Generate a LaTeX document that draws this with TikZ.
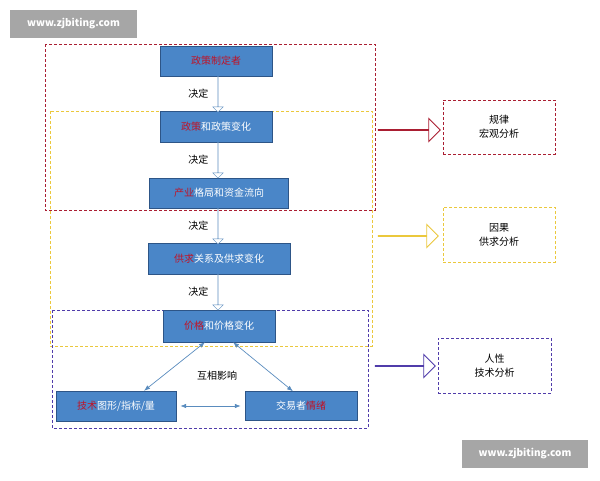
\documentclass[tikz,border=0pt]{standalone}
\usepackage{fontspec}
\setmainfont{Noto Sans CJK SC}
\usetikzlibrary{shapes.arrows,arrows.meta}
\definecolor{boxblue}{RGB}{74,134,200}
\definecolor{boxedge}{RGB}{45,85,135}
\definecolor{keyred}{RGB}{190,20,40}
\definecolor{frred}{RGB}{170,30,50}
\definecolor{fryellow}{RGB}{235,200,60}
\definecolor{frpurple}{RGB}{80,60,170}
\definecolor{linkblue}{RGB}{90,140,190}
\tikzset{
  stage/.style={draw=boxedge,fill=boxblue,text=white,font=\fontsize{10}{12}\selectfont,inner sep=0pt},
  frame/.style={draw,densely dashed,line width=0.8pt},
  down/.style={single arrow,draw=linkblue,fill=white,rotate=270,minimum height=36,minimum width=10,single arrow head extend=5,inner sep=0pt},
  fat/.style={single arrow,fill=white,line width=0.9pt,minimum width=22,single arrow head extend=11,inner sep=0pt},
  note/.style={font=\fontsize{10}{14}\selectfont,align=center},
  link/.style={draw=linkblue,line width=0.7pt,{Latex[length=6pt]}-{Latex[length=6pt]}}
}
\begin{document}
\begin{tikzpicture}[x=1pt,y=1pt,yscale=-1]
\useasboundingbox (0,0) rectangle (600,480);

%Dashed frames
\draw [frame,frred] (45,44) rectangle (375,210);
\draw [frame,fryellow] (50,111) rectangle (372,346);
\draw [frame,frpurple] (52,310) rectangle (368,428);

%Chain of blue boxes
\node [stage,minimum width=112,minimum height=30] (maker) at (216,61) {\textcolor{keyred}{政策制定者}};
\node [stage,minimum width=112,minimum height=31] (policy) at (216,127) {\textcolor{keyred}{政策}和政策变化};
\node [stage,minimum width=139,minimum height=30] (industry) at (219,193) {\textcolor{keyred}{产业}格局和资金流向};
\node [stage,minimum width=142,minimum height=31] (supply) at (219,259) {\textcolor{keyred}{供求}关系及供求变化};
\node [stage,minimum width=112,minimum height=32] (price) at (219,326) {\textcolor{keyred}{价格}和价格变化};
\node [stage,minimum width=120,minimum height=30] (tech) at (116,406) {\textcolor{keyred}{技术}图形/指标/量};
\node [stage,minimum width=112,minimum height=29] (mood) at (301,406) {交易者\textcolor{keyred}{情绪}};

%Hollow down arrows
\node [down] (d1) at (218,94) {};
\node [down] (d2) at (218,160) {};
\node [down] (d3) at (218,226) {};
\node [down] (d4) at (218,292) {};
\foreach \d in {d1,d2,d3,d4}
  \node [note,anchor=east] at ([xshift=-6]\d.center) {决定};

%Mutual influence
\draw [link] ([xshift=-14]price.south) -- ([xshift=28]tech.north);
\draw [link] ([xshift=14]price.south) -- ([xshift=-8]mood.north);
\draw [link] ([xshift=4]tech.east) -- ([xshift=-4]mood.west);
\node [note] (mutual) at (217,376) {互相影响};

%Right side
\node [fat,draw=frred,minimum height=62] (a1) at (409,130) {};
\node [fat,draw=fryellow,minimum height=60] (a2) at (408,236) {};
\node [fat,draw=frpurple,minimum height=60] (a3) at (405,366) {};
\node [frame,frred,note,text=black,minimum width=112,minimum height=54] (law) at (499,127) {规律\\宏观分析};
\node [frame,fryellow,note,text=black,minimum width=112,minimum height=55] (cause) at (499,234.5) {因果\\供求分析};
\node [frame,frpurple,note,text=black,minimum width=113,minimum height=55] (human) at (494.5,365.5) {人性\\技术分析};

%Watermarks
\node [fill=gray!70,text=white,font=\fontsize{10}{12}\selectfont\bfseries,minimum width=127,minimum height=28] (wm1) at (73.5,24) {www.zjbiting.com};
\node [fill=gray!70,text=white,font=\fontsize{10}{12}\selectfont\bfseries,minimum width=126,minimum height=28] (wm2) at (525,454) {www.zjbiting.com};
\end{tikzpicture}
\end{document}
